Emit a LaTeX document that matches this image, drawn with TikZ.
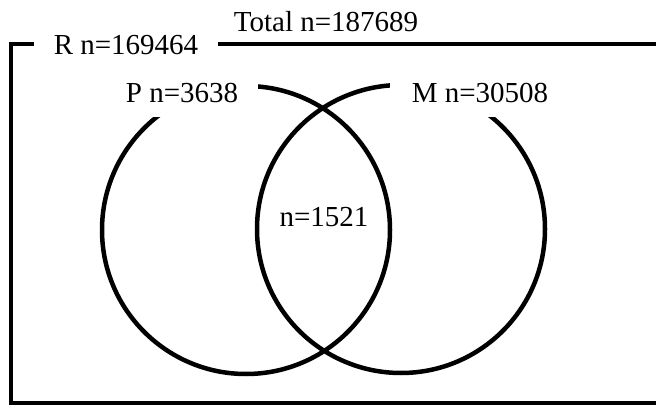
\documentclass[tikz,border=0pt]{standalone}
\usepackage{fontspec}
\setmainfont{Liberation Serif}
\begin{document}
\begin{tikzpicture}[x=1pt, y=-1pt, line width=4.5pt,
  every node/.style={font=\fontsize{29}{33}\selectfont, anchor=base, inner ysep=14pt},
  setlabel/.style={fill=white}]
  \useasboundingbox (0,0) rectangle (656,406);

  \draw (670,44) -- (11,44) -- (11,403) -- (670,403);

  \draw (246,230) circle (144);
  \draw (401,229) circle (144);

  \node (total) at (326,32) {Total n=187689};
  \node[setlabel, inner xsep=20pt] (R) at (126,55) {R n=169464};
  \node[setlabel, inner xsep=20pt] (P) at (182,103) {P n=3638};
  \node[setlabel, inner xsep=22pt] (M) at (480,103) {M n=30508};
  \node (PM) at (324,227) {n=1521};
\end{tikzpicture}
\end{document}
